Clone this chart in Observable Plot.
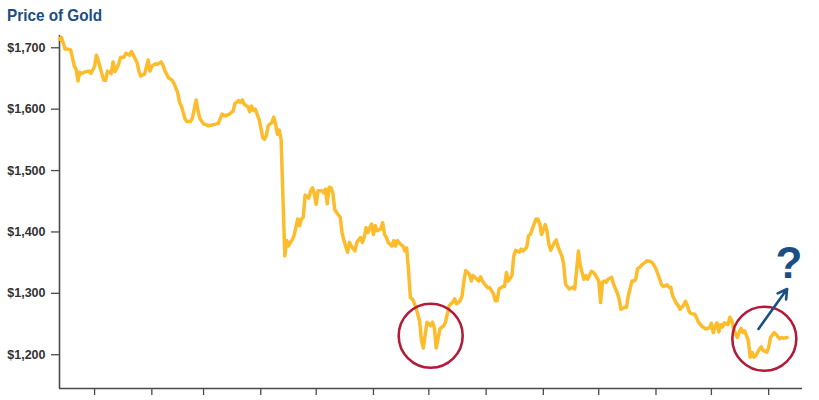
<!DOCTYPE html>
<html>
<head>
<meta charset="utf-8">
<script src="https://cdn.jsdelivr.net/npm/d3@7"></script>
<script src="https://cdn.jsdelivr.net/npm/@observablehq/plot@0.6"></script>
<style>
  html, body { margin: 0; padding: 0; background: #fff; }
  #wrap { position: relative; width: 819px; height: 400px; overflow: hidden; }
  #title { position: relative; height: 26px; }
  #title span { position: absolute; left: 7px; top: 6px; line-height: 17px;
    font: bold 17px "Liberation Sans", Arial, sans-serif; color: #1b4e82; white-space: nowrap;
    transform: scaleX(0.9); transform-origin: 0 50%; }
  svg { display: block; }
</style>
</head>
<body>
<div id="wrap">
  <div id="title"><span>Price of Gold</span></div>
  <div id="chart"></div>
</div>
<script>
// ---- Data ----
const dates = [
  "2012-12-13","2012-12-14","2012-12-15","2012-12-16","2012-12-17","2012-12-19","2012-12-20","2012-12-21","2012-12-22","2012-12-23","2012-12-24","2012-12-25","2012-12-27","2012-12-29","2012-12-30",
  "2013-01-01","2013-01-02","2013-01-03","2013-01-05","2013-01-06","2013-01-07","2013-01-08","2013-01-10","2013-01-11","2013-01-12","2013-01-14","2013-01-15","2013-01-17","2013-01-18","2013-01-20","2013-01-21","2013-01-22","2013-01-24","2013-01-25","2013-01-26","2013-01-28","2013-01-29","2013-01-30","2013-01-31",
  "2013-02-01","2013-02-03","2013-02-04","2013-02-06","2013-02-07","2013-02-08","2013-02-10","2013-02-12","2013-02-13","2013-02-15","2013-02-16","2013-02-17","2013-02-19","2013-02-20","2013-02-22","2013-02-23","2013-02-25","2013-02-26","2013-02-27",
  "2013-03-01","2013-03-04","2013-03-08","2013-03-09","2013-03-11","2013-03-13","2013-03-15","2013-03-17","2013-03-18","2013-03-20","2013-03-21","2013-03-22","2013-03-23","2013-03-25","2013-03-26","2013-03-27","2013-03-28","2013-03-29","2013-03-30","2013-03-31",
  "2013-04-01","2013-04-02","2013-04-03","2013-04-04","2013-04-05","2013-04-06","2013-04-07","2013-04-08","2013-04-09","2013-04-10","2013-04-11","2013-04-12","2013-04-14","2013-04-15","2013-04-16","2013-04-17","2013-04-18","2013-04-19","2013-04-21","2013-04-22","2013-04-23","2013-04-24","2013-04-25","2013-04-27","2013-04-28","2013-04-29","2013-04-30",
  "2013-05-01","2013-05-02","2013-05-04","2013-05-05","2013-05-06","2013-05-07","2013-05-08","2013-05-09","2013-05-10","2013-05-11","2013-05-12","2013-05-14","2013-05-15","2013-05-16","2013-05-18","2013-05-19","2013-05-20","2013-05-22","2013-05-23","2013-05-25","2013-05-26","2013-05-27","2013-05-28","2013-05-29","2013-05-31",
  "2013-06-01","2013-06-02","2013-06-03","2013-06-05","2013-06-06","2013-06-07","2013-06-08","2013-06-09","2013-06-11","2013-06-12","2013-06-13","2013-06-14","2013-06-16","2013-06-17","2013-06-18","2013-06-19","2013-06-20","2013-06-21","2013-06-22","2013-06-23","2013-06-24","2013-06-26","2013-06-27","2013-06-28","2013-06-30",
  "2013-07-02","2013-07-03","2013-07-04","2013-07-05","2013-07-07","2013-07-09","2013-07-10","2013-07-12","2013-07-14","2013-07-15","2013-07-16","2013-07-18","2013-07-19","2013-07-20","2013-07-21","2013-07-23","2013-07-24","2013-07-25","2013-07-26","2013-07-28","2013-07-29","2013-07-30",
  "2013-08-01","2013-08-02","2013-08-03","2013-08-05","2013-08-06","2013-08-07","2013-08-08","2013-08-10","2013-08-11","2013-08-12","2013-08-13","2013-08-15","2013-08-16","2013-08-17","2013-08-19","2013-08-20","2013-08-21","2013-08-23","2013-08-24","2013-08-25","2013-08-26","2013-08-28","2013-08-29","2013-08-30","2013-08-31",
  "2013-09-02","2013-09-03","2013-09-04","2013-09-05","2013-09-07","2013-09-08","2013-09-09","2013-09-11","2013-09-12","2013-09-13","2013-09-15","2013-09-17","2013-09-18","2013-09-19","2013-09-20","2013-09-21","2013-09-23","2013-09-24","2013-09-25","2013-09-27","2013-09-28","2013-09-29",
  "2013-10-01","2013-10-02","2013-10-03","2013-10-04","2013-10-05","2013-10-06","2013-10-08","2013-10-09","2013-10-11","2013-10-12","2013-10-13","2013-10-15","2013-10-16","2013-10-17","2013-10-19","2013-10-20","2013-10-21","2013-10-22","2013-10-23","2013-10-25","2013-10-26","2013-10-27","2013-10-29","2013-10-30","2013-10-31",
  "2013-11-01","2013-11-03","2013-11-04","2013-11-05","2013-11-07","2013-11-08","2013-11-09","2013-11-10","2013-11-12","2013-11-13","2013-11-14","2013-11-16","2013-11-17","2013-11-18","2013-11-19","2013-11-20","2013-11-22","2013-11-23","2013-11-24","2013-11-26","2013-11-27","2013-11-28","2013-11-30",
  "2013-12-01","2013-12-02","2013-12-03","2013-12-04","2013-12-05","2013-12-06","2013-12-07","2013-12-08","2013-12-10","2013-12-11","2013-12-12","2013-12-13","2013-12-15","2013-12-16","2013-12-17","2013-12-18","2013-12-19","2013-12-21","2013-12-22","2013-12-23","2013-12-24","2013-12-25","2013-12-27","2013-12-28","2013-12-29","2013-12-31",
  "2014-01-01","2014-01-02","2014-01-04","2014-01-05","2014-01-07","2014-01-08","2014-01-09","2014-01-11"
];
const prices = [
  1714,1717,1708,1698,1698,1697,1684,1670,1665,1646,1660,1658,1661,1662,1658,
  1670,1688,1679,1657,1647,1647,1662,1658,1677,1661,1673,1684,1685,1691,1688,1694,1688,1676,1662,1654,1657,1668,1680,1662,
  1670,1674,1673,1677,1672,1663,1651,1647,1642,1627,1611,1605,1584,1580,1580,1586,1615,1597,1585,
  1576,1573,1576,1577,1592,1589,1592,1597,1609,1614,1611,1615,1608,1604,1596,1605,1598,1600,1592,1584,
  1570,1554,1551,1557,1573,1576,1578,1587,1576,1559,1566,1551,1361,1386,1377,1383,1387,1394,1421,1410,1421,1424,1460,1455,1467,1472,1462,
  1445,1467,1467,1464,1470,1446,1473,1472,1464,1437,1432,1424,1399,1386,1367,1383,1377,1369,1383,1391,1383,1391,1407,1399,1413,
  1396,1410,1402,1405,1415,1396,1391,1383,1377,1386,1377,1386,1379,1377,1369,1374,1337,1293,1291,1285,1277,1255,1223,1211,1253,
  1247,1253,1244,1211,1242,1247,1253,1280,1286,1291,1283,1288,1296,1320,1337,1331,1320,1329,1326,1320,1327,1320,
  1312,1309,1309,1299,1288,1288,1307,1311,1311,1334,1320,1329,1361,1370,1367,1372,1369,1375,1394,1396,1405,1421,1421,1414,1396,
  1412,1401,1380,1370,1383,1387,1375,1361,1348,1315,1307,1310,1307,1337,1369,1345,1323,1329,1323,1336,1334,1331,
  1320,1285,1318,1320,1318,1323,1326,1315,1301,1291,1274,1277,1277,1296,1320,1320,1323,1340,1342,1348,1350,1353,1352,1350,1345,
  1340,1323,1314,1311,1314,1310,1310,1296,1284,1280,1274,1281,1287,1280,1270,1267,1266,1260,1253,1246,1244,1242,1244,
  1251,1236,1246,1252,1237,1249,1245,1252,1249,1261,1256,1242,1228,1236,1243,1236,1239,1223,1196,1204,1196,1198,1209,1213,1207,1204,
  1212,1228,1236,1233,1226,1228,1227,1228
];

// Axis ticks
const yTicks = [1200, 1300, 1400, 1500, 1600, 1700];
const xTickMonths = ["2013-01-01","2013-02-01","2013-03-01","2013-04-01","2013-05-01","2013-06-01","2013-07-01","2013-08-01","2013-09-01","2013-10-01","2013-11-01","2013-12-01","2014-01-01"];

// Annotations (circled lows, arrow and question mark)
const circleDates = ["2013-07-02", "2013-12-29T16:00Z"];
const circlePrices = [1231, 1226];
const arrowFrom = ["2013-12-26T12:00Z", 1242];
const arrowTo = ["2014-01-11", 1307];
const questionAt = ["2014-01-12", 1348];
const questionText = "?";

// ---- Build ----
const gold = dates.map((d, i) => ({date: new Date(d), price: prices[i]}));
const circles = circleDates.map((d, i) => ({date: new Date(d), price: circlePrices[i]}));
const xDomain = [new Date("2012-12-13"), new Date("2014-01-19T08:00Z")];
const yDomain = [1145, 1720];

const navy = "#1b4e82";
const axisColor = "#4a4a4a";

const chart = Plot.plot({
  width: 819,
  height: 374,
  marginLeft: 59,
  marginRight: 17,
  marginTop: 9,
  marginBottom: 12,
  style: {
    fontFamily: "'Liberation Sans', Arial, sans-serif",
    fontSize: "12.5px",
    fontWeight: "bold",
    color: "#333",
    background: "#fff"
  },
  x: {type: "utc", domain: xDomain, axis: null},
  y: {domain: yDomain, axis: null},
  marks: [
    Plot.axisY({ticks: yTicks, tickFormat: d => "$" + d3.format(",")(d), tickSize: 8, tickPadding: 6, stroke: axisColor, strokeWidth: 1.3}),
    Plot.axisX({ticks: xTickMonths.map(d => new Date(d)), tickFormat: () => "", tickSize: 7, stroke: axisColor, strokeWidth: 1.3}),
    Plot.ruleX([xDomain[0]], {stroke: axisColor, strokeWidth: 1.6}),
    Plot.ruleY([yDomain[0]], {stroke: axisColor, strokeWidth: 1.6}),
    Plot.line(gold, {x: "date", y: "price", stroke: "#fcbc2c", strokeWidth: 3.5, strokeLinejoin: "round", strokeLinecap: "round"}),
    Plot.dot(circles, {x: "date", y: "price", r: 32, stroke: "#b31b3a", strokeWidth: 2.6, fill: "none"}),
    Plot.arrow([{x1: new Date(arrowFrom[0]), y1: arrowFrom[1], x2: new Date(arrowTo[0]), y2: arrowTo[1]}],
      {x1: "x1", y1: "y1", x2: "x2", y2: "y2", stroke: navy, strokeWidth: 2.6, headLength: 6, bend: 0}),
    Plot.text([{date: new Date(questionAt[0]), price: questionAt[1]}],
      {x: "date", y: "price", text: () => questionText, fontSize: 44, fontWeight: "bold", fill: navy, textAnchor: "middle", fontFamily: "'Liberation Sans', Arial, sans-serif"})
  ]
});
document.getElementById("chart").appendChild(chart);
</script>
</body>
</html>
